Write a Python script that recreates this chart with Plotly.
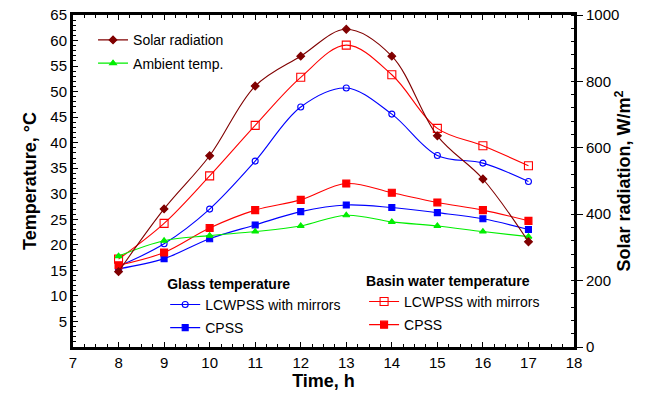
import plotly.graph_objects as go

hours = [8, 9, 10, 11, 12, 13, 14, 15, 16, 17]
solar_radiation = [227, 416, 576, 786, 876, 957, 876, 636, 506, 317]
ambient_temp = [17.8, 20.8, 21.8, 22.6, 23.7, 25.8, 24.5, 23.7, 22.6, 21.6]
glass_lcwpss = [15.8, 20.2, 27.0, 36.4, 47.0, 50.7, 45.6, 37.5, 36.0, 32.4]
glass_cpss = [15.3, 17.3, 21.2, 23.9, 26.5, 27.8, 27.3, 26.3, 25.1, 23.0]
basin_lcwpss = [17.2, 24.2, 33.5, 43.4, 52.8, 59.1, 53.3, 42.8, 39.4, 35.5]
basin_cpss = [16.0, 18.5, 23.3, 26.8, 28.8, 32.0, 30.2, 28.3, 26.8, 24.7]

FONT = "Liberation Sans, Arial, sans-serif"
fig = go.Figure()

def add(y, name, color, symbol, legend, group, yaxis="y", size=6, width=1.1):
    fig.add_trace(go.Scatter(
        x=hours, y=y, name=name, mode="lines+markers", yaxis=yaxis,
        line=dict(color=color, width=width, shape="spline", smoothing=1.0),
        marker=dict(symbol=symbol, size=size, color=color,
                    line=dict(color=color, width=1.1)),
        legend=legend, legendgroup=group,
    ))

add(glass_lcwpss, "LCWPSS with mirrors", "#0000ff", "circle-open", "legend2", "g1", size=6)
add(glass_cpss, "CPSS", "#0000ff", "square", "legend2", "g2", size=6)
add(basin_lcwpss, "LCWPSS with mirrors", "#ff0000", "square-open", "legend3", "b1", size=8)
add(basin_cpss, "CPSS", "#ff0000", "square", "legend3", "b2", size=7)
add(solar_radiation, "Solar radiation", "#800000", "diamond", "legend", "a1", yaxis="y2", size=6)
add(ambient_temp, "Ambient temp.", "#00ee00", "triangle-up", "legend", "a2", size=6)

tick_font = dict(family=FONT, size=15, color="black")
title_font = dict(family=FONT, size=18, color="black")
leg_font = dict(family=FONT, size=14, color="black")

fig.update_layout(
    width=646, height=396, autosize=False,
    margin=dict(l=73, r=72, t=15, b=49),
    paper_bgcolor="white", plot_bgcolor="white",
    xaxis=dict(range=[7, 18], dtick=1, tick0=7, showgrid=False, zeroline=False,
               showline=True, linecolor="black", linewidth=3, mirror="ticks",
               ticks="inside", ticklen=5, tickwidth=1, tickcolor="black",
               minor=dict(dtick=0.25, ticks="inside", ticklen=3, tickcolor="black"),
               tickfont=tick_font, automargin=False,
               title=dict(text="<b>Time, h</b>", font=title_font, standoff=4)),
    yaxis=dict(range=[0, 65], tickvals=list(range(5, 66, 5)), showgrid=False, zeroline=False,
               showline=True, linecolor="black", linewidth=3,
               ticks="inside", ticklen=5, tickwidth=1, tickcolor="black",
               minor=dict(dtick=1, ticks="inside", ticklen=3, tickcolor="black"),
               tickfont=tick_font, automargin=False,
               title=dict(text="<b>Temperature, °C</b>", font=title_font, standoff=10)),
    yaxis2=dict(range=[0, 1000], dtick=200, overlaying="y", side="right", showgrid=False,
                zeroline=False, showline=True, linecolor="black", linewidth=3,
                ticks="outside", ticklen=6, tickwidth=1, tickcolor="black",
                minor=dict(dtick=40, ticks="inside", ticklen=3, tickcolor="black"),
                tickfont=tick_font, automargin=False,
                title=dict(text="<b>Solar radiation, W/m<sup>2</sup></b>", font=title_font, standoff=0)),
    legend=dict(x=0.04, y=0.972, xanchor="left", yanchor="top", font=leg_font,
                bgcolor="rgba(0,0,0,0)", traceorder="grouped", tracegroupgap=2,
                itemclick=False),
    legend2=dict(x=0.184, y=0.23, xanchor="left", yanchor="top", font=leg_font,
                 bgcolor="rgba(0,0,0,0)", tracegroupgap=2,
                 title=dict(text="<b>Glass temperature</b>", font=leg_font)),
    legend3=dict(x=0.581, y=0.239, xanchor="left", yanchor="top", font=leg_font,
                 bgcolor="rgba(0,0,0,0)", tracegroupgap=2,
                 title=dict(text="<b>Basin water temperature</b>", font=leg_font)),
    showlegend=True,
)

fig.write_html("out.html")
